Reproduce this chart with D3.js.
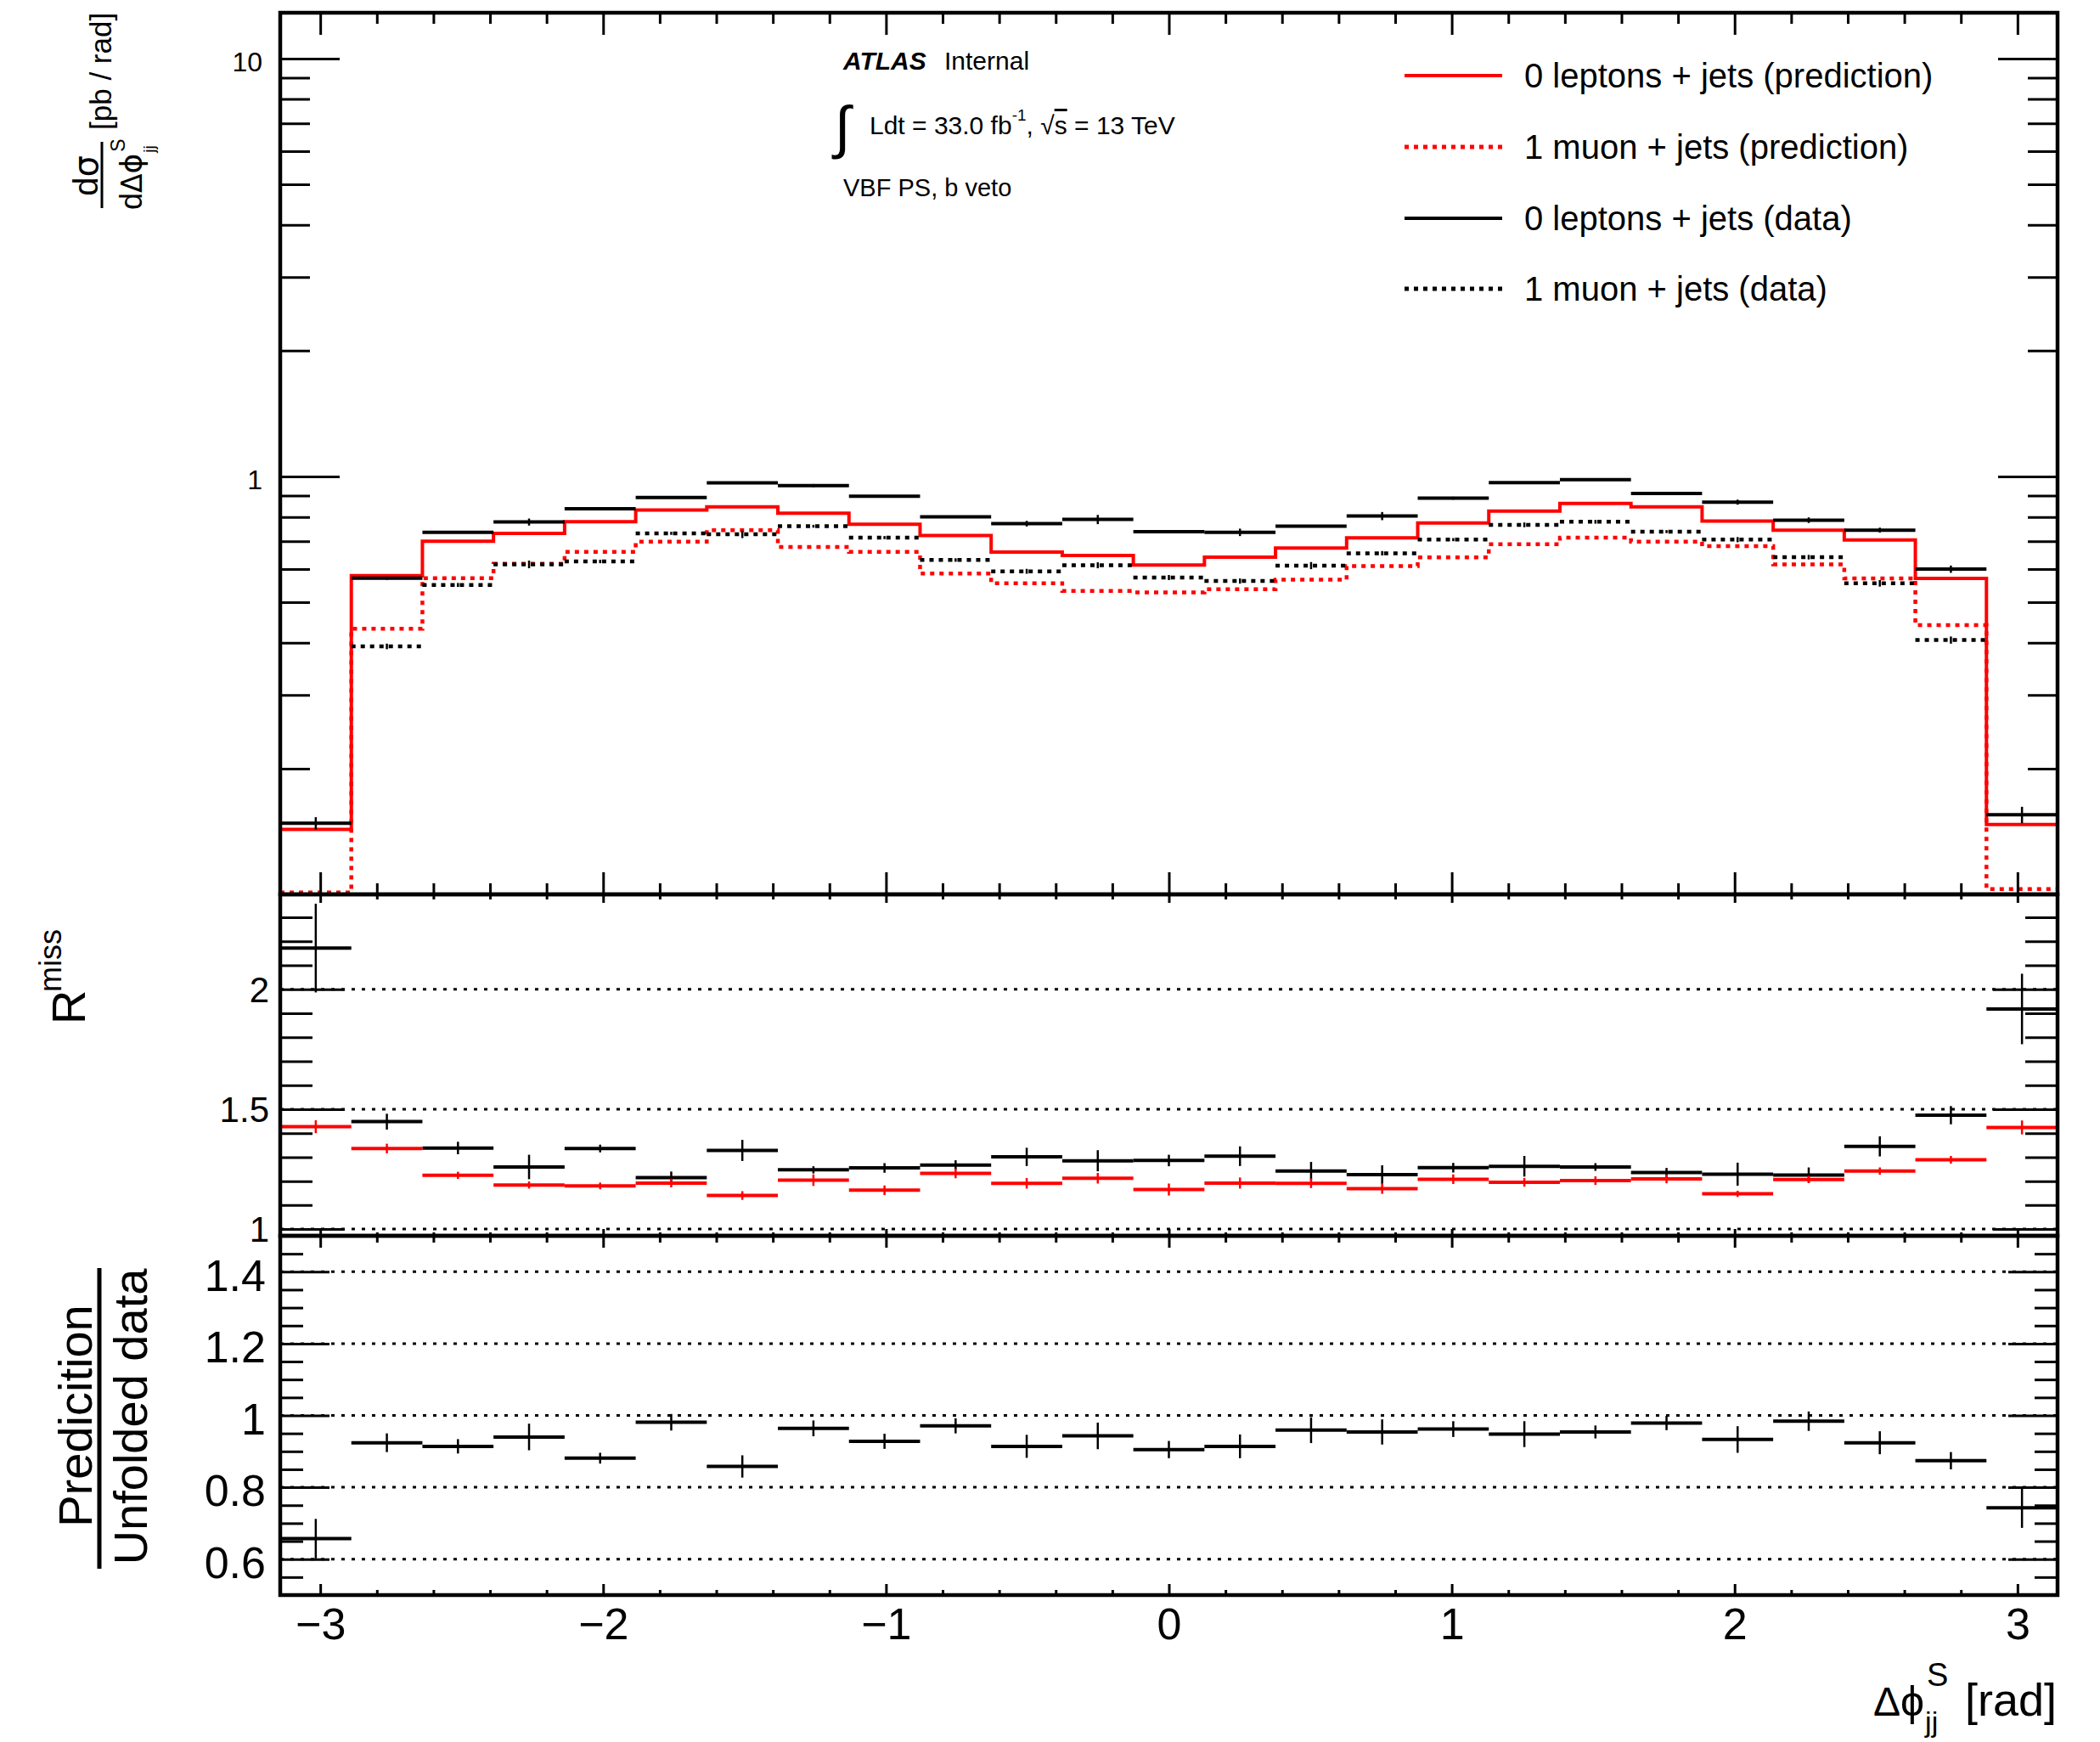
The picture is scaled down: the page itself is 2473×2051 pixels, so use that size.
<!DOCTYPE html>
<html>
<head>
<meta charset="utf-8">
<script src="https://cdn.jsdelivr.net/npm/d3@7"></script>
<style>
  body { margin: 0; background: #fff; }
  svg { display: block; }
  text { font-family: "Liberation Sans", Arial, Helvetica, sans-serif; fill: #000; }
</style>
</head>
<body>
<svg id="chart" width="2473" height="2051"></svg>
<script>
// ---- binning: 25 uniform bins in Δφ_jj^S over [-π, π] ----
const nBins = 25;
const binEdges = d3.range(nBins + 1).map(i => -Math.PI + i * 2 * Math.PI / nBins);

// ---- dσ/dΔφ [pb/rad] ----
const zeroLepPred = [0.143, 0.579, 0.700, 0.731, 0.779, 0.831, 0.846, 0.817, 0.768, 0.722, 0.659, 0.647, 0.614,
                     0.641, 0.674, 0.713, 0.774, 0.826, 0.862, 0.846, 0.782, 0.744, 0.705, 0.570, 0.147];
const oneMuPred   = [0.101, 0.432, 0.571, 0.618, 0.660, 0.698, 0.744, 0.678, 0.660, 0.586, 0.555, 0.532, 0.528,
                     0.537, 0.566, 0.610, 0.640, 0.688, 0.714, 0.698, 0.681, 0.616, 0.570, 0.441, 0.103];
const zeroLepData = [0.148, 0.571, 0.735, 0.778, 0.837, 0.890, 0.965, 0.951, 0.897, 0.801, 0.771, 0.789, 0.738,
                     0.735, 0.760, 0.804, 0.887, 0.966, 0.982, 0.911, 0.868, 0.786, 0.744, 0.600, 0.155];
const zeroLepDataErr = [0.005, 0.005, 0.004, 0.015, 0.004, 0.005, 0.006, 0.008, 0.004, 0.004, 0.012, 0.020, 0.006,
                        0.015, 0.005, 0.018, 0.007, 0.005, 0.005, 0.004, 0.012, 0.012, 0.010, 0.012, 0.007];
const oneMuData   = [0.068, 0.392, 0.550, 0.616, 0.626, 0.731, 0.727, 0.760, 0.714, 0.631, 0.593, 0.613, 0.573,
                     0.562, 0.612, 0.655, 0.706, 0.766, 0.779, 0.738, 0.706, 0.641, 0.555, 0.406, 0.081];
const oneMuDataErr = [0.004, 0.006, 0.006, 0.013, 0.006, 0.006, 0.015, 0.006, 0.006, 0.006, 0.008, 0.010, 0.008,
                      0.008, 0.012, 0.008, 0.006, 0.010, 0.008, 0.006, 0.010, 0.008, 0.010, 0.008, 0.004];

// ---- R^miss ----
const rMissData    = [2.172, 1.448, 1.338, 1.259, 1.336, 1.215, 1.328, 1.247, 1.255, 1.267, 1.301, 1.285, 1.286,
                      1.304, 1.242, 1.227, 1.256, 1.262, 1.259, 1.236, 1.229, 1.225, 1.345, 1.475, 1.918];
const rMissDataErr = [0.185, 0.033, 0.026, 0.051, 0.016, 0.025, 0.044, 0.015, 0.020, 0.020, 0.038, 0.044, 0.024,
                      0.041, 0.038, 0.039, 0.020, 0.043, 0.016, 0.019, 0.048, 0.032, 0.042, 0.038, 0.147];
const rMissPred    = [1.427, 1.336, 1.224, 1.184, 1.180, 1.192, 1.140, 1.204, 1.162, 1.232, 1.191, 1.212, 1.165,
                      1.192, 1.191, 1.169, 1.208, 1.195, 1.202, 1.209, 1.147, 1.207, 1.242, 1.289, 1.424];
const rMissPredErr = [0.027, 0.020, 0.015, 0.015, 0.014, 0.018, 0.018, 0.024, 0.020, 0.020, 0.022, 0.022, 0.025,
                      0.023, 0.020, 0.022, 0.020, 0.018, 0.018, 0.018, 0.013, 0.015, 0.015, 0.016, 0.029];

// ---- prediction / unfolded data ----
const predOverData    = [0.657, 0.924, 0.914, 0.940, 0.881, 0.981, 0.858, 0.964, 0.928, 0.971, 0.914, 0.943, 0.905,
                         0.914, 0.959, 0.954, 0.962, 0.948, 0.954, 0.979, 0.933, 0.984, 0.924, 0.874, 0.743];
const predOverDataErr = [0.055, 0.026, 0.020, 0.037, 0.015, 0.023, 0.031, 0.022, 0.021, 0.021, 0.032, 0.037, 0.024,
                         0.033, 0.036, 0.035, 0.022, 0.036, 0.018, 0.020, 0.037, 0.027, 0.032, 0.024, 0.056];

// ---- axis ticks / labels ----
const xMajorTicks = [-3, -2, -1, 0, 1, 2, 3];
const xMinorTicks = d3.range(-30, 31, 2).map(v => v / 10).filter(v => Math.abs(v - Math.round(v)) > 1e-6);
const mainMajorTicks = [1, 10];
const mainMinorTicks = [0.2, 0.3, 0.4, 0.5, 0.6, 0.7, 0.8, 0.9, 2, 3, 4, 5, 6, 7, 8, 9];
const midMajorTicks = [1, 1.5, 2];
const midMinorTicks = [1.1, 1.2, 1.3, 1.4, 1.6, 1.7, 1.8, 1.9, 2.1, 2.2, 2.3];
const midGrid = [1, 1.5, 2];
const botMajorTicks = [0.6, 0.8, 1.0, 1.2, 1.4];
const botMinorTicks = [0.55, 0.65, 0.7, 0.75, 0.85, 0.9, 0.95, 1.05, 1.1, 1.15, 1.25, 1.3, 1.35, 1.45];
const botGrid = [0.6, 0.8, 1.0, 1.2, 1.4];

const legendLabels = ["0 leptons + jets (prediction)", "1 muon + jets (prediction)",
                      "0 leptons + jets (data)", "1 muon + jets (data)"];

// ---- layout ----
const svg = d3.select("#chart");
const X0 = 330, X1 = 2423;
const Y_TOP = 15, Y_MAIN_BOT = 1053, Y_MID_BOT = 1455, Y_BOT_BOT = 1878;
const FRAME_W = 4.5;
const RED = "#ff0000";
const FONT = '"Liberation Sans", Arial, Helvetica, sans-serif';
const GREEK = '"DejaVu Sans", "Noto Sans", sans-serif';

const x = d3.scaleLinear().domain([-Math.PI, Math.PI]).range([X0, X1]);
const yMain = d3.scaleLog().domain([0.1, 12.87]).range([Y_MAIN_BOT, Y_TOP]);
const yMid = d3.scaleLinear().domain([0.972, 2.396]).range([Y_MID_BOT, Y_MAIN_BOT]);
const yBot = d3.scaleLinear().domain([0.5, 1.5]).range([Y_BOT_BOT, Y_MID_BOT]);

const defs = svg.append("defs");
function clip(id, y0, y1) {
  defs.append("clipPath").attr("id", id).append("rect")
    .attr("x", X0).attr("y", y0).attr("width", X1 - X0).attr("height", y1 - y0);
  return svg.append("g").attr("clip-path", `url(#${id})`);
}
const gMain = clip("clipMain", Y_TOP, Y_MAIN_BOT);
const gMid = clip("clipMid", Y_MAIN_BOT, Y_MID_BOT);
const gBot = clip("clipBot", Y_MID_BOT, Y_BOT_BOT);

// ---- dotted reference lines in ratio panels ----
function grid(g, yScale, vals) {
  g.selectAll(null).data(vals).enter().append("line")
    .attr("x1", X0).attr("x2", X1)
    .attr("y1", d => yScale(d)).attr("y2", d => yScale(d))
    .attr("stroke", "#000").attr("stroke-width", 3).attr("stroke-dasharray", "4,8");
}
grid(gMid, yMid, midGrid);
grid(gBot, yBot, botGrid);

// ---- step histograms ----
function stepPoints(vals) {
  const pts = vals.map((v, i) => [binEdges[i], v]);
  pts.push([binEdges[nBins], vals[nBins - 1]]);
  return pts;
}
const stepLine = d3.line()
  .x(d => x(d[0]))
  .y(d => yMain(Math.max(d[1], 0.05)))
  .curve(d3.curveStepAfter);

gMain.append("path").attr("d", stepLine(stepPoints(zeroLepPred)))
  .attr("fill", "none").attr("stroke", RED).attr("stroke-width", 4);
gMain.append("path").attr("d", stepLine(stepPoints(oneMuPred)))
  .attr("fill", "none").attr("stroke", RED).attr("stroke-width", 4.5).attr("stroke-dasharray", "5,6");

// ---- points drawn as horizontal bin-width bars with vertical error bars ----
function bars(g, yScale, vals, errs, color, opts = {}) {
  const [lo] = yScale.domain();
  const items = vals.map((v, i) => ({ v, e: errs[i], i })).filter(d => d.v >= lo);
  const hb = g.append("g");
  hb.selectAll("line").data(items).enter().append("line")
    .attr("x1", d => x(binEdges[d.i])).attr("x2", d => x(binEdges[d.i + 1]))
    .attr("y1", d => yScale(d.v)).attr("y2", d => yScale(d.v))
    .attr("stroke", color).attr("stroke-width", opts.hw || 4)
    .attr("stroke-dasharray", opts.dash || null);
  const vb = g.append("g");
  vb.selectAll("line").data(items).enter().append("line")
    .attr("x1", d => x((binEdges[d.i] + binEdges[d.i + 1]) / 2))
    .attr("x2", d => x((binEdges[d.i] + binEdges[d.i + 1]) / 2))
    .attr("y1", d => yScale(Math.max(d.v - d.e, lo * 0.999)))
    .attr("y2", d => yScale(d.v + d.e))
    .attr("stroke", color).attr("stroke-width", opts.vw || 2.5);
}
bars(gMain, yMain, zeroLepData, zeroLepDataErr, "#000", { hw: 4 });
bars(gMain, yMain, oneMuData, oneMuDataErr, "#000", { hw: 4.5, dash: "5,6" });

bars(gMid, yMid, rMissData, rMissDataErr, "#000", { hw: 4 });
bars(gMid, yMid, rMissPred, rMissPredErr, RED, { hw: 4 });

bars(gBot, yBot, predOverData, predOverDataErr, "#000", { hw: 4 });

// ---- axes: ticks on all four sides of each panel ----
function styleAxis(g, size) {
  g.select(".domain").remove();
  g.selectAll(".tick line").attr("stroke", "#000").attr("stroke-width", 3);
  g.selectAll("text").attr("font-family", FONT).attr("font-size", size).attr("fill", "#000");
  g.attr("font-family", null).attr("font-size", null);
}
function xTickSet(y, axisFn, majorLen, minorLen, labels) {
  const gMaj = svg.append("g").attr("transform", `translate(0,${y})`)
    .call(axisFn(x).tickValues(xMajorTicks).tickSize(-majorLen).tickPadding(labels ? 15 : 0)
      .tickFormat(labels ? d3.format("d") : () => ""));
  styleAxis(gMaj, labels || 10);
  const gMin = svg.append("g").attr("transform", `translate(0,${y})`)
    .call(axisFn(x).tickValues(xMinorTicks).tickSize(-minorLen).tickFormat(() => ""));
  styleAxis(gMin, 10);
  return gMaj;
}
function yTickSet(scale, major, minor, majorLen, minorLen, fmt, fontSize, pad, dy) {
  const gl = svg.append("g").attr("transform", `translate(${X0},0)`)
    .call(d3.axisLeft(scale).tickValues(major).tickSize(-majorLen).tickPadding(pad).tickFormat(fmt));
  styleAxis(gl, fontSize);
  gl.selectAll("text").attr("dy", dy);
  styleAxis(svg.append("g").attr("transform", `translate(${X0},0)`)
    .call(d3.axisLeft(scale).tickValues(minor).tickSize(-minorLen).tickFormat(() => "")), 10);
  styleAxis(svg.append("g").attr("transform", `translate(${X1},0)`)
    .call(d3.axisRight(scale).tickValues(major).tickSize(-majorLen).tickFormat(() => "")), 10);
  styleAxis(svg.append("g").attr("transform", `translate(${X1},0)`)
    .call(d3.axisRight(scale).tickValues(minor).tickSize(-minorLen).tickFormat(() => "")), 10);
}
const numFmt = d => String(+d.toFixed(2));

// main panel
xTickSet(Y_TOP, d3.axisTop, 26, 13);
xTickSet(Y_MAIN_BOT, d3.axisBottom, 26, 13);
yTickSet(yMain, mainMajorTicks, mainMinorTicks, 70, 35, numFmt, 32, 21, "0.45em");
// R^miss panel
xTickSet(Y_MAIN_BOT, d3.axisTop, 10, 6);
xTickSet(Y_MID_BOT, d3.axisBottom, 8, 4);
yTickSet(yMid, midMajorTicks, midMinorTicks, 76, 38, numFmt, 42, 13, "0.34em");
// ratio panel
xTickSet(Y_MID_BOT, d3.axisTop, 14, 8);
xTickSet(Y_BOT_BOT, d3.axisBottom, 13, 6, 52);
yTickSet(yBot, botMajorTicks, botMinorTicks, 58, 27, numFmt, 52, 17, "0.42em");

// ---- frames ----
[[Y_TOP, Y_MAIN_BOT], [Y_MAIN_BOT, Y_MID_BOT], [Y_MID_BOT, Y_BOT_BOT]].forEach(([a, b]) => {
  svg.append("rect").attr("x", X0).attr("y", a).attr("width", X1 - X0).attr("height", b - a)
    .attr("fill", "none").attr("stroke", "#000").attr("stroke-width", FRAME_W);
});

// ---- axis titles ----
function txt(parent, str, xp, yp, size, anchor = "start") {
  return parent.append("text").attr("x", xp).attr("y", yp).attr("font-size", size)
    .attr("font-family", FONT).attr("text-anchor", anchor).text(str);
}

// x title: Δφ^S_jj [rad]
const gx = svg.append("g");
const xt = gx.append("text").attr("x", 2206).attr("y", 2020).attr("font-size", 50).attr("font-family", GREEK);
xt.append("tspan").attr("font-size", 48).text("Δ");
xt.append("tspan").attr("font-size", 50).text("ϕ");
const xtEnd = 2206 + xt.node().getComputedTextLength();
txt(gx, "S", xtEnd + 3, 1985, 38);
txt(gx, "jj", xtEnd + 1, 2039, 34);
txt(gx, "[rad]", 2422, 2020, 54, "end");

// main y title: dσ / dΔφ^S_jj [pb / rad]
const gy1 = svg.append("g").attr("transform", "translate(120,0) rotate(-90)");
gy1.append("line").attr("x1", -245).attr("x2", -167).attr("y1", 0).attr("y2", 0)
  .attr("stroke", "#000").attr("stroke-width", 3);
const num = gy1.append("text").attr("x", -207).attr("y", -5).attr("text-anchor", "middle")
  .attr("font-size", 40).attr("font-family", FONT);
num.append("tspan").text("d");
num.append("tspan").attr("font-family", GREEK).text("σ");
const den = gy1.append("text").attr("x", -247).attr("y", 47).attr("font-size", 36).attr("font-family", FONT);
den.append("tspan").text("d");
den.append("tspan").attr("font-family", GREEK).attr("font-size", 33).text("Δ");
den.append("tspan").attr("font-family", GREEK).attr("font-size", 36).text("ϕ");
const denEnd = -247 + den.node().getComputedTextLength();
txt(gy1, "S", denEnd + 2, 27, 23);
txt(gy1, "jj", denEnd + 1, 62, 19);
txt(gy1, "[pb / rad]", -153, 11, 35);

// R^miss title
const gy2 = svg.append("g").attr("transform", "rotate(-90)");
txt(gy2, "R", -1206, 100, 56);
txt(gy2, "miss", -1168, 72, 36);

// Prediction / unfolded data title
const gy3 = svg.append("g").attr("transform", "rotate(-90)");
gy3.append("line").attr("x1", -1847).attr("x2", -1493).attr("y1", 117).attr("y2", 117)
  .attr("stroke", "#000").attr("stroke-width", 5);
txt(gy3, "Predicition", -1667, 108, 56, "middle");
txt(gy3, "Unfolded data", -1668, 173, 56, "middle");

// ---- ATLAS label and run info ----
const gl = svg.append("g");
txt(gl, "ATLAS", 993, 82, 30).attr("font-weight", "bold").attr("font-style", "italic");
txt(gl, "Internal", 1112, 82, 30);
txt(gl, "∫", 983, 173, 68);
const lumi = gl.append("text").attr("x", 1024).attr("y", 158).attr("font-size", 30).attr("font-family", FONT);
lumi.append("tspan").text("Ldt = 33.0 fb");
lumi.append("tspan").attr("font-size", 19).attr("dy", -16).text("-1");
lumi.append("tspan").attr("dy", 16).text(", ");
lumi.append("tspan").text("√");
lumi.append("tspan").attr("text-decoration", "overline").text("s");
lumi.append("tspan").text(" = 13 TeV");
txt(gl, "VBF PS, b veto", 993, 231, 29);

// ---- legend ----
const legendStyles = [
  { color: RED, dash: null }, { color: RED, dash: "5,6" },
  { color: "#000", dash: null }, { color: "#000", dash: "5,6" }
];
const legendRows = [89, 173, 257, 340];
const gLeg = svg.append("g");
legendLabels.forEach((lab, i) => {
  gLeg.append("line").attr("x1", 1654).attr("x2", 1769)
    .attr("y1", legendRows[i]).attr("y2", legendRows[i])
    .attr("stroke", legendStyles[i].color).attr("stroke-width", legendStyles[i].dash ? 5 : 4)
    .attr("stroke-dasharray", legendStyles[i].dash);
  txt(gLeg, lab, 1795, legendRows[i] + 14, 40);
});
</script>
</body>
</html>
